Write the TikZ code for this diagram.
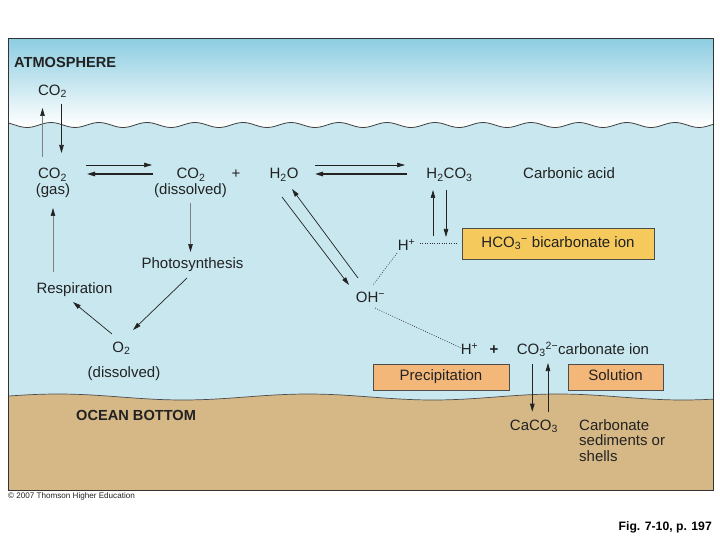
\documentclass[tikz,border=0pt]{standalone}
\usepackage{fontspec}
\setmainfont{Liberation Sans}
\usetikzlibrary{arrows.meta}

\definecolor{skytop}{HTML}{8DCDE1}
\definecolor{water}{HTML}{C8E7EF}
\definecolor{seabed}{HTML}{D6B887}
\definecolor{bicarbfill}{HTML}{F5C95C}
\definecolor{boxfill}{HTML}{F3B77A}
\definecolor{ink}{HTML}{222222}

\begin{document}
\begin{tikzpicture}[x=1pt, y=-1pt,
                lbl/.style = {font=\fontsize{15}{15.5}\selectfont, text=ink, inner sep=1pt, text height=10.5pt, text depth=3pt},
                head/.style = {font=\fontsize{14.6}{16}\selectfont\bfseries, text=ink, inner sep=0pt, anchor=west},
                rbox/.style = {lbl, draw=black!70, line width=0.8pt, minimum height=26pt, inner sep=0pt},
                arr/.style = {-{Triangle[length=8pt,width=4.5pt]}, line width=0.7pt, draw=ink},
                grayarr/.style = {-{Triangle[length=8pt,width=4.5pt,color=ink]}, line width=0.7pt, draw=black!50},
                dots/.style = {line width=0.7pt, dash pattern=on 0.8pt off 1.6pt, draw=black!80}]
                \useasboundingbox (0,0) rectangle (720,540);
                \fill[white] (0,0) rectangle (720,540);

                \shade[top color=skytop, bottom color=white] (8,39) rectangle (713,126);
                \fill[water] plot[domain=8:713, samples=200] (\x, {125-2.5*cos(7.5*(\x-51))}) -- (713,490) -- (8,490) -- cycle;
                \draw[line width=0.8pt, black!75] plot[domain=8:713, samples=200] (\x, {125-2.5*cos(7.5*(\x-51))});
                \fill[seabed] plot[domain=8:713, samples=100] (\x, {397-3*cos(1.44*(\x-308))}) -- (713,490) -- (8,490) -- cycle;
                \draw[line width=0.7pt, black!70] plot[domain=8:713, samples=100] (\x, {397-3*cos(1.44*(\x-308))});
                \draw[line width=1pt, black!80] (8,39) rectangle (713,490);

                \node[head] at (14,62) (atm) {ATMOSPHERE};
                \node[head] at (76,415.5) (ocean) {OCEAN BOTTOM};

                \node[lbl] at (52.5,91.5) (co2air) {CO\textsubscript{2}};
                \node[lbl] at (52.5,175) (co2gas) {CO\textsubscript{2}};
                \node[lbl] at (53,191) (gas) {(gas)};
                \node[lbl] at (191,175) (co2diss) {CO\textsubscript{2}};
                \node[lbl] at (190.5,191) (diss) {(dissolved)};
                \node[lbl] at (236,175) (plusa) {+};
                \node[lbl] at (284,175) (h2o) {H\textsubscript{2}O};
                \node[lbl] at (449.5,175) (h2co3) {H\textsubscript{2}CO\textsubscript{3}};
                \node[lbl, anchor=west] at (522,175) (acid) {Carbonic acid};
                \node[lbl] at (406.5,246.5) (hpa) {H\textsuperscript{+}};
                \node[rbox, fill=bicarbfill, minimum width=192pt, minimum height=31pt] at (558,243.5) (bicarb) {HCO\textsubscript{3}\textsuperscript{−} bicarbonate ion\hspace{6pt}};
                \node[lbl] at (370.5,299) (oh) {OH\textsuperscript{−}};
                \node[lbl] at (192.5,264.5) (photo) {Photosynthesis};
                \node[lbl] at (74.5,289.5) (resp) {Respiration};
                \node[lbl] at (121.5,348.5) (o2) {O\textsubscript{2}};
                \node[lbl] at (124,373.5) (o2diss) {(dissolved)};
                \node[lbl] at (469.5,350.5) (hpb) {H\textsuperscript{+}};
                \node[lbl] at (494,350.5) (plusb) {\textbf{+}};
                \node[lbl, anchor=west] at (515.7,350.5) (co3) {CO\textsubscript{3}\textsuperscript{2−}carbonate ion};
                \node[rbox, fill=boxfill, minimum width=136pt] at (441,377) (precip) {Precipitation};
                \node[rbox, fill=boxfill, minimum width=95pt] at (615.5,377) (sol) {Solution};
                \node[lbl] at (534,426.5) (caco3) {CaCO\textsubscript{3}};
                \node[font=\fontsize{15}{15.5}\selectfont, text=ink, inner sep=0pt, anchor=north west, align=left] at (579,419) (sed) {Carbonate\\sediments or\\shells};

                \node[font=\fontsize{8.1}{9}\selectfont, text=ink, anchor=west, inner sep=0pt] at (8,496) (copy) {© 2007 Thomson Higher Education};
                \node[font=\fontsize{12.2}{14}\selectfont\bfseries, text=black, anchor=east, inner sep=0pt] at (712,527) (fig) {Fig. 7-10, p. 197};

                \draw[grayarr, shorten <=18pt, shorten >=16.5pt] ([xshift=-10pt]co2gas.center) -- ([xshift=-10pt]co2air.center);
                \draw[arr, shorten <=12.5pt, shorten >=22pt] ([xshift=9pt]co2air.center) -- ([xshift=9pt]co2gas.center);

                \draw[arr, shorten <=33.5pt, shorten >=39pt] ([yshift=10pt]co2gas.center) -- ([yshift=10pt]co2diss.center);
                \draw[arr, line width=1.3pt, shorten <=38pt, shorten >=34.5pt] ([yshift=1pt]co2diss.center) -- ([yshift=1pt]co2gas.center);
                \draw[arr, shorten <=31pt, shorten >=44.5pt] ([yshift=10pt]h2o.center) -- ([yshift=10pt]h2co3.center);
                \draw[arr, line width=1.3pt, shorten <=42.5pt, shorten >=31pt] ([yshift=1pt]h2co3.center) -- ([yshift=1pt]h2o.center);

                \draw[arr, shorten <=15pt, shorten >=9.5pt] ([xshift=-3.5pt]h2co3.center) -- ([xshift=-3.5pt]h2co3.center |- hpa.center);
                \draw[arr, shorten <=10.5pt, shorten >=15pt] ([xshift=-16.5pt]h2co3.center |- hpa.center) -- ([xshift=-16.5pt]h2co3.center);
                \draw[dots, shorten <=13.5pt, shorten >=4pt] ([yshift=3.5pt]hpa.center) -- ([yshift=3.5pt]hpa.center -| bicarb.west);
                \draw[dots] ([shift={(-9.5pt,-6.5pt)}]hpa.center) -- ([shift={(2.5pt,14pt)}]oh.center);
                \draw[dots] ([shift={(4.5pt,-9pt)}]oh.center) -- ([shift={(-8.5pt,2.5pt)}]hpb.center);

                \draw[arr] ([shift={(-2pt,-22pt)}]h2o.center) -- ([shift={(-21.5pt,14pt)}]oh.center);
                \draw[arr] ([shift={(-12.5pt,21pt)}]oh.center) -- ([shift={(8pt,-14pt)}]h2o.center);

                \draw[grayarr, shorten <=12pt, shorten >=12.5pt] (diss.center) -- (diss.center |- photo.center);
                \draw[arr] ([shift={(-5.5pt,-13.5pt)}]photo.center) -- ([shift={(11.5pt,18.5pt)}]o2.center);
                \draw[arr] ([shift={(-9.5pt,14.5pt)}]o2.center) -- ([shift={(-1.5pt,-12.5pt)}]resp.center);
                \draw[grayarr, shorten <=17.5pt, shorten >=17pt] (gas.center |- resp.center) -- (gas.center);

                \draw[arr, shorten <=13.5pt, shorten >=14.8pt] ([xshift=-1.7pt]caco3.center |- co3.center) -- ([xshift=-1.7pt]caco3.center);
                \draw[arr, shorten <=14.5pt, shorten >=12.5pt] ([xshift=14pt]caco3.center) -- ([xshift=14pt]caco3.center |- co3.center);
\end{tikzpicture}
\end{document}
